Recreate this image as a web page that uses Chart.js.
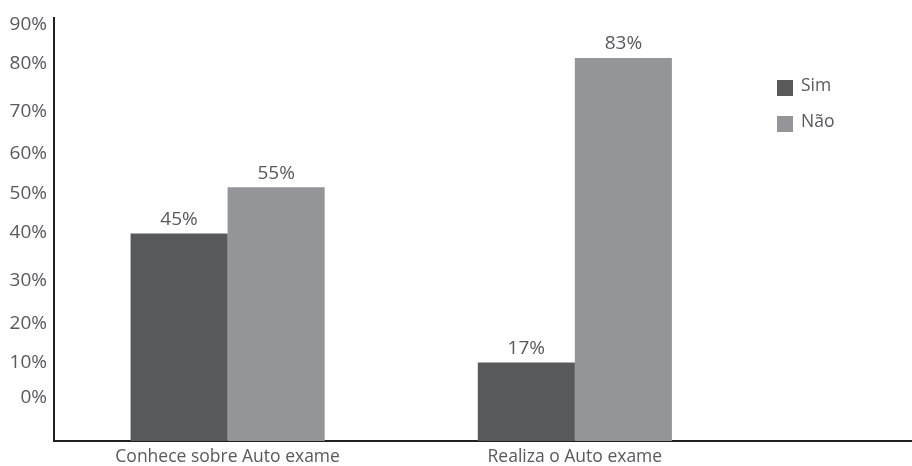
<!DOCTYPE html>
<html>
<head>
<meta charset="utf-8">
<script src="https://cdn.jsdelivr.net/npm/chart.js@4.4.1/dist/chart.umd.min.js"></script>
<style>
  html, body { margin: 0; padding: 0; background: #ffffff; }
  #wrap { width: 912px; height: 466px; position: relative; }
</style>
</head>
<body>
<div id="wrap"><canvas id="c" width="912" height="466"></canvas></div>
<script>
// ---- data ----
const categories = ['Conhece sobre Auto exame', 'Realiza o Auto exame'];
const seriesNames = ['Sim', 'Não'];
const simValues = [45, 17];
const naoValues = [55, 83];
// y-axis tick labels as printed in the original, and where they sit on the value scale
const yTickLabels = ['0%', '10%', '20%', '30%', '40%', '50%', '60%', '70%', '80%', '90%'];
const yTickValues = [9.5, 16.9, 25.5, 34.7, 45.1, 53.7, 62.3, 71.3, 81.7, 90.2];

const colors = ['#58595b', '#939598'];
const textColor = '#58595b';
const axisColor = '#231f20';
const FONT = '"Open Sans", "Noto Sans", sans-serif';

const valueLabels = {
  id: 'valueLabels',
  afterDatasetsDraw(chart) {
    const ctx = chart.ctx;
    ctx.save();
    ctx.font = '19px ' + FONT;
    ctx.fillStyle = textColor;
    ctx.textAlign = 'center';
    ctx.textBaseline = 'middle';
    chart.data.datasets.forEach((ds, di) => {
      const meta = chart.getDatasetMeta(di);
      meta.data.forEach((el, i) => {
        ctx.fillText(ds.data[i].y + '%', el.x, el.y - 14);
      });
    });
    ctx.restore();
  }
};

const sideLegend = {
  id: 'sideLegend',
  afterDraw(chart) {
    const ctx = chart.ctx;
    ctx.save();
    ctx.font = '17.5px ' + FONT;
    ctx.textBaseline = 'middle';
    ctx.textAlign = 'left';
    chart.data.datasets.forEach((ds, i) => {
      const y = 88 + i * 36;
      ctx.fillStyle = ds.backgroundColor;
      ctx.fillRect(777, y - 8, 16, 16);
      ctx.fillStyle = textColor;
      ctx.fillText(ds.label, 801, y - 2);
    });
    ctx.restore();
  }
};

new Chart(document.getElementById('c'), {
  type: 'bar',
  data: {
    datasets: [
      { label: seriesNames[0], data: simValues.map((v, i) => ({ x: i, y: v })), backgroundColor: colors[0] },
      { label: seriesNames[1], data: naoValues.map((v, i) => ({ x: i, y: v })), backgroundColor: colors[1] }
    ]
  },
  options: {
    responsive: false,
    animation: false,
    devicePixelRatio: 1,
    categoryPercentage: 0.559,
    barPercentage: 1,
    layout: { padding: { top: 16, right: 0, left: 0, bottom: 0 } },
    plugins: { legend: { display: false }, tooltip: { enabled: false } },
    scales: {
      x: {
        type: 'linear',
        offset: false,
        min: -0.5,
        max: 1.971,
        grid: { display: false, drawTicks: false, offset: false },
        border: { display: true, color: axisColor, width: 2 },
        afterBuildTicks: (s) => { s.ticks = categories.map((c, i) => ({ value: i })); },
        afterFit: (s) => { s.height = 25; },
        ticks: {
          autoSkip: false, maxRotation: 0,
          padding: 6,
          color: textColor,
          font: { family: FONT, size: 17.5 },
          callback: (v, i) => categories[i]
        }
      },
      y: {
        min: 0,
        max: 91.6,
        grid: { display: false, drawTicks: false },
        border: { display: true, color: axisColor, width: 2 },
        afterBuildTicks: (s) => { s.ticks = yTickValues.map(v => ({ value: v })); },
        afterFit: (s) => { s.width = 54; },
        ticks: {
          autoSkip: false,
          padding: 7,
          color: textColor,
          font: { family: FONT, size: 19 },
          callback: (v, i) => yTickLabels[i]
        }
      }
    }
  },
  plugins: [valueLabels, sideLegend]
});
</script>
</body>
</html>
